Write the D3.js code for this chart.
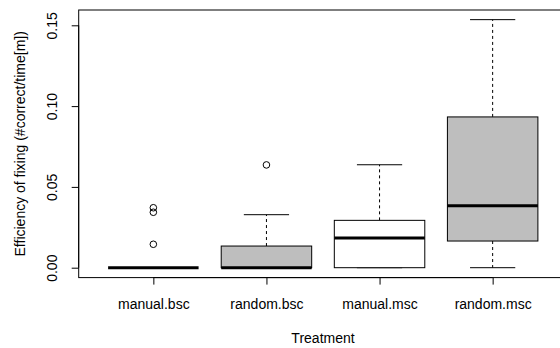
<!DOCTYPE html>
<html><head><meta charset="utf-8">
<script src="https://cdn.jsdelivr.net/npm/d3@7"></script>
<style>body{margin:0;background:#fff}svg{display:block}text{font-family:"Liberation Sans",Arial,sans-serif;fill:#000}</style>
</head><body>
<script>
const categories = ["manual.bsc","random.bsc","manual.msc","random.msc"];
const whiskLo = [0, 0, 0, 0];
const q1 = [0, 0, 0, 0.0165];
const median = [0, 0, 0.0184, 0.0384];
const q3 = [0, 0.0134, 0.0293, 0.0933];
const whiskHi = [0, 0.0328, 0.0637, 0.1535];
const outliers = [[0.0371, 0.0343, 0.0145], [0.0636], [], []];
const yTicks = [0, 0.05, 0.10, 0.15];
const fills = ["#ffffff", "#bebebe", "#ffffff", "#bebebe"];

const W = 560, H = 348;
const FS = "14px";
const svg = d3.select("body").append("svg").attr("width", W).attr("height", H);
const x = d3.scaleLinear().domain([0.34, 4.66]).range([78.7, 567.3]);
const y = d3.scaleLinear().domain([-0.00613, 0.15947]).range([277.6, 10]);
const bw = (x(2) - x(1)) * 0.8;

const g = svg.append("g");
categories.forEach((c, i) => {
  const cx = x(i + 1);
  g.append("line").attr("x1", cx).attr("x2", cx).attr("y1", y(q3[i])).attr("y2", y(whiskHi[i]))
    .attr("stroke", "#000").attr("stroke-dasharray", "3,3");
  g.append("line").attr("x1", cx).attr("x2", cx).attr("y1", y(q1[i])).attr("y2", y(whiskLo[i]))
    .attr("stroke", "#000").attr("stroke-dasharray", "3,3");
  [whiskHi[i], whiskLo[i]].forEach(v => {
    g.append("line").attr("x1", cx - bw / 4).attr("x2", cx + bw / 4).attr("y1", y(v)).attr("y2", y(v))
      .attr("stroke", "#000");
  });
  g.append("rect").attr("x", cx - bw / 2).attr("width", bw)
    .attr("y", y(q3[i])).attr("height", Math.max(0, y(q1[i]) - y(q3[i])))
    .attr("fill", fills[i]).attr("stroke", "#000");
  g.append("line").attr("x1", cx - bw / 2).attr("x2", cx + bw / 2).attr("y1", y(median[i])).attr("y2", y(median[i]))
    .attr("stroke", "#000").attr("stroke-width", 3);
  outliers[i].forEach(v => {
    g.append("circle").attr("cx", cx).attr("cy", y(v)).attr("r", 3.3)
      .attr("fill", "none").attr("stroke", "#000");
  });
});

svg.append("rect").attr("x", x.range()[0]).attr("y", y.range()[1])
  .attr("width", x.range()[1] - x.range()[0]).attr("height", y.range()[0] - y.range()[1])
  .attr("fill", "none").attr("stroke", "#000");

const ya = svg.append("g").attr("transform", `translate(${x.range()[0]},0)`)
  .call(d3.axisLeft(y).tickValues(yTicks).tickFormat(d3.format(".2f")).tickSizeOuter(0).tickSize(7));
ya.select(".domain").attr("d", `M0,${y(0)}V${y(0.15)}`);
ya.selectAll(".tick text").attr("transform", "rotate(-90)").attr("x", 0).attr("y", -27)
  .attr("dy", "0.35em").attr("text-anchor", "middle").style("font-size", FS).style("font-family", '"Liberation Sans",Arial,sans-serif');

const xa = svg.append("g").attr("transform", `translate(0,${y.range()[0]})`)
  .call(d3.axisBottom(x).tickValues([1, 2, 3, 4]).tickFormat((d) => categories[d - 1]).tickSizeOuter(0).tickSize(7));
xa.select(".domain").attr("d", `M${x(1)},0H${x(4)}`);
xa.selectAll(".tick text").attr("y", 27).attr("dy", "0.35em").style("font-size", FS)
  .style("font-family", '"Liberation Sans",Arial,sans-serif');

svg.append("text").attr("x", (x.range()[0] + x.range()[1]) / 2).attr("y", 338).attr("dy", "0.35em")
  .attr("text-anchor", "middle").style("font-size", FS).text("Treatment");
svg.append("text").attr("transform", `translate(20.5,${(y.range()[0] + y.range()[1]) / 2}) rotate(-90)`)
  .attr("dy", "0.35em").attr("text-anchor", "middle").style("font-size", FS)
  .text("Efficiency of fixing (#correct/time[m])");
</script>
</body></html>
